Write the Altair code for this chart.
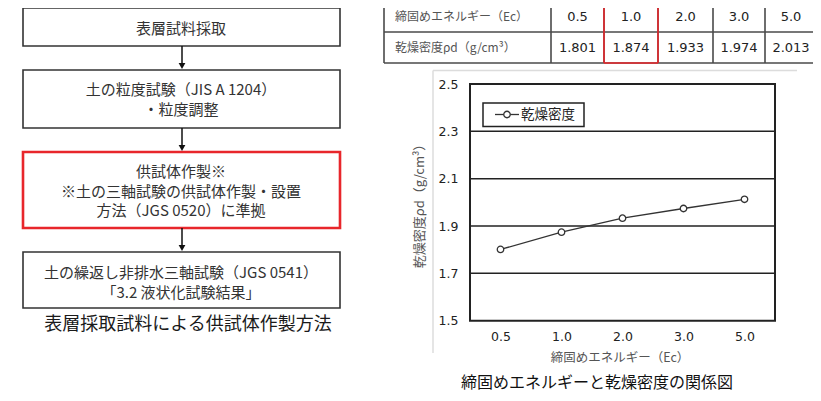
import altair as alt
import pandas as pd

# ---------------- data ----------------
energy = ["0.5", "1.0", "2.0", "3.0", "5.0"]
density = [1.801, 1.874, 1.933, 1.974, 2.013]
series_name = "乾燥密度"
y_ticks = [1.5, 1.7, 1.9, 2.1, 2.3, 2.5]
grid_values = [1.7, 1.9, 2.1, 2.3]
x_title = "締固めエネルギー（Ec）"
y_title = "乾燥密度ρd（g/cm³）"
chart_caption = "締固めエネルギーと乾燥密度の関係図"
table_labels = ["締固めエネルギー（Ec）", "乾燥密度ρd（g/cm³）"]
flow_steps = [
    ["表層試料採取"],
    ["土の粒度試験（JIS A 1204）", "・粒度調整"],
    ["供試体作製※", "※土の三軸試験の供試体作製・設置", "方法（JGS 0520）に準拠"],
    ["土の繰返し非排水三軸試験（JGS 0541）", "「3.2 液状化試験結果」"],
]
flow_caption = "表層採取試料による供試体作製方法"
highlight_step = 2
highlight_energy = "1.0"

# ---------------- layout (pixels) ----------------
W, H = 805, 385
M = 8


def P(v):
    return v - M


JP = "Noto Sans CJK JP"
NUM = "DejaVu Sans"
RED = "#e8262b"


def pxX(f):
    return alt.X(f, type="quantitative", scale=None, axis=None)


def pxY(f):
    return alt.Y(f, type="quantitative", scale=None, axis=None)


def segs(rows):
    return pd.DataFrame(rows, columns=["x", "x2", "y", "y2", "c", "w"])


def seg_layer(df):
    return alt.Chart(df).mark_rule().encode(
        x=pxX("x"), x2="x2", y=pxY("y"), y2="y2",
        color=alt.Color("c:N", scale=None),
        strokeWidth=alt.StrokeWidth("w:Q", scale=None),
    )


def text_layer(df, font, align="center"):
    return alt.Chart(df).mark_text(font=font, align=align, baseline="middle").encode(
        x=pxX("x"), y=pxY("y"), text="t:N",
        size=alt.Size("s:Q", scale=None),
        color=alt.Color("c:N", scale=None),
    )


# ---------------- flowchart ----------------
box_x = (23, 340)
box_tops = [8, 70, 152, 252]
box_bots = [46, 128, 228, 308]
line_ys = [[29], [90, 110], [172, 192, 211], [273, 293]]
flow_cx = 181

box_rows = []
for i in range(len(flow_steps)):
    box_rows.append(dict(
        x=P(box_x[0]), x2=P(box_x[1]), y=P(box_tops[i]), y2=P(box_bots[i]),
        c=RED if i == highlight_step else "#333333",
        w=2.6 if i == highlight_step else 1.6,
    ))
boxes = alt.Chart(pd.DataFrame(box_rows)).mark_rect(fill="white").encode(
    x=pxX("x"), x2="x2", y=pxY("y"), y2="y2",
    stroke=alt.Stroke("c:N", scale=None),
    strokeWidth=alt.StrokeWidth("w:Q", scale=None),
)

arrow_rows = []
head_rows = []
for i in range(len(flow_steps) - 1):
    arrow_rows.append([P(182), P(182), P(box_bots[i]), P(box_tops[i + 1] - 5), "#111", 1.5])
    head_rows.append(dict(x=P(182), y=P(box_tops[i + 1] - 4)))
arrows = seg_layer(segs(arrow_rows))
heads = alt.Chart(pd.DataFrame(head_rows)).mark_point(
    shape="triangle-down", filled=True, color="#111", size=45, opacity=1
).encode(x=pxX("x"), y=pxY("y"))

flow_text_rows = []
for i, lines in enumerate(flow_steps):
    for j, t in enumerate(lines):
        flow_text_rows.append(dict(x=P(flow_cx), y=P(line_ys[i][j]), t=t, s=15, c="#333333"))
flow_text_rows.append(dict(x=P(188), y=P(325), t=flow_caption, s=18, c="#1a1a1a"))
flow_text = text_layer(pd.DataFrame(flow_text_rows), JP)

# ---------------- table ----------------
col_edges = [384, 551, 604, 658, 713, 765, 812]
row_edges = [-2, 32, 63]
row_mid = [17, 47.5]
tcol = "#4a4a4a"
table_rows = []
for ye in row_edges[1:]:
    table_rows.append([P(col_edges[0]), P(col_edges[-1]) + 10, P(ye), P(ye), tcol, 1.6])
for xe in col_edges[:-1]:
    table_rows.append([P(xe), P(xe), P(row_edges[0]), P(row_edges[-1]), tcol, 1.6])
hi = energy.index(highlight_energy)
hx0, hx1 = col_edges[hi + 1], col_edges[hi + 2]
table_rows += [
    [P(hx0), P(hx0), P(row_edges[0]), P(row_edges[-1]), RED, 1.6],
    [P(hx1), P(hx1), P(row_edges[0]), P(row_edges[-1]), RED, 1.6],
    [P(hx0), P(hx1), P(row_edges[-1]), P(row_edges[-1]), RED, 1.6],
]
# faint frame of the chart object
table_rows += [
    [P(433), P(797), P(70.5), P(70.5), "#dcdcdc", 1.5],
    [P(433), P(433), P(70.5), P(353), "#dcdcdc", 1.5],
]
table_lines = seg_layer(segs(table_rows))

lab_rows = [dict(x=P(395), y=P(row_mid[k]), t=table_labels[k], s=12, c="#555555") for k in range(2)]
table_labels_layer = text_layer(pd.DataFrame(lab_rows), JP, align="left")

val_centers = [577.5, 631, 685.5, 739, 791]
val_rows = []
for k in range(len(energy)):
    cx = val_centers[k]
    val_rows.append(dict(x=P(cx), y=P(row_mid[0]), t=energy[k], s=13, c="#222222"))
    val_rows.append(dict(x=P(cx), y=P(row_mid[1]), t=f"{density[k]:.3f}", s=13, c="#222222"))
table_vals = text_layer(pd.DataFrame(val_rows), NUM)

# ---------------- line chart ----------------
plot_l, plot_r = P(470), P(775)
plot_t, plot_b = P(84), P(320.7)

xs = alt.Scale(type="point", domain=energy, range=[plot_l, plot_r], padding=0.5)
ys = alt.Scale(domain=[1.5, 2.5], range=[plot_b, plot_t], nice=False, zero=False)

df = pd.DataFrame({"E": energy, "rho": density})

line = alt.Chart(df).mark_line(color="#333333", strokeWidth=1.3).encode(
    x=alt.X("E:N", scale=xs, sort=energy,
            axis=alt.Axis(orient="bottom", offset=-(H - plot_b), ticks=False, domain=False,
                          grid=False, labelAngle=0, labelPadding=10, title=None,
                          labelFont=NUM, labelFontSize=12.5, labelColor="#222222")),
    y=alt.Y("rho:Q", scale=ys,
            axis=alt.Axis(orient="left", offset=-plot_l, ticks=False, domain=False,
                          grid=False, values=y_ticks, format=".1f", labelPadding=12,
                          title=None, labelFont=NUM, labelFontSize=12.5,
                          labelColor="#222222")),
)
pts = alt.Chart(df).mark_point(shape="circle", size=42, filled=True, fill="white",
                               stroke="#333333", strokeWidth=1.3, opacity=1).encode(
    x=alt.X("E:N", scale=xs, sort=energy), y=alt.Y("rho:Q", scale=ys))

grid = alt.Chart(pd.DataFrame({"v": grid_values})).mark_rule(
    color="#222222", strokeWidth=1.5).encode(
    y=alt.Y("v:Q", scale=ys), x=alt.value(plot_l), x2=alt.value(plot_r))

border = alt.Chart(pd.DataFrame({"a": [0]})).mark_rect(
    fill="white", stroke="#222222", strokeWidth=2).encode(
    x=alt.value(plot_l), x2=alt.value(plot_r), y=alt.value(plot_t), y2=alt.value(plot_b))

plot = alt.layer(border, grid, line, pts)

# legend box
leg_box = alt.Chart(pd.DataFrame([dict(x=P(483), x2=P(584), y=P(103), y2=P(126.5))])).mark_rect(
    fill="white", stroke="#222222", strokeWidth=1.5).encode(
    x=pxX("x"), x2="x2", y=pxY("y"), y2="y2")
leg_line = seg_layer(segs([[P(495), P(519), P(114.5), P(114.5), "#333333", 1.3]]))
leg_pt = alt.Chart(pd.DataFrame([dict(x=P(507), y=P(114.5))])).mark_point(
    shape="circle", size=42, filled=True, fill="white", stroke="#333333",
    strokeWidth=1.3, opacity=1).encode(x=pxX("x"), y=pxY("y"))
leg_text = text_layer(pd.DataFrame([dict(x=P(521), y=P(115), t=series_name, s=13.5, c="#222222")]),
                      JP, align="left")

# titles
title_rows = [
    dict(x=P(620), y=P(358), t=x_title, s=12.5, c="#555555"),
    dict(x=P(597), y=P(383), t=chart_caption, s=16, c="#111111"),
]
titles = text_layer(pd.DataFrame(title_rows), JP)
ytitle = alt.Chart(pd.DataFrame([dict(x=P(420), y=P(203), t=y_title)])).mark_text(
    font=JP, fontSize=13, angle=270, align="center", baseline="middle", color="#555555"
).encode(x=pxX("x"), y=pxY("y"), text="t:N")

chart = alt.layer(
    boxes, arrows, heads, flow_text,
    table_lines, table_labels_layer, table_vals,
    plot, leg_box, leg_line, leg_pt, leg_text, titles, ytitle,
).resolve_scale(
    x="independent", y="independent", color="independent",
    size="independent", stroke="independent", strokeWidth="independent",
).properties(
    width=W, height=H, padding=0, autosize=alt.AutoSizeParams(type="none")
).configure_view(stroke=None)

chart.save("out.html", embed_options={"renderer": "svg", "actions": False})
